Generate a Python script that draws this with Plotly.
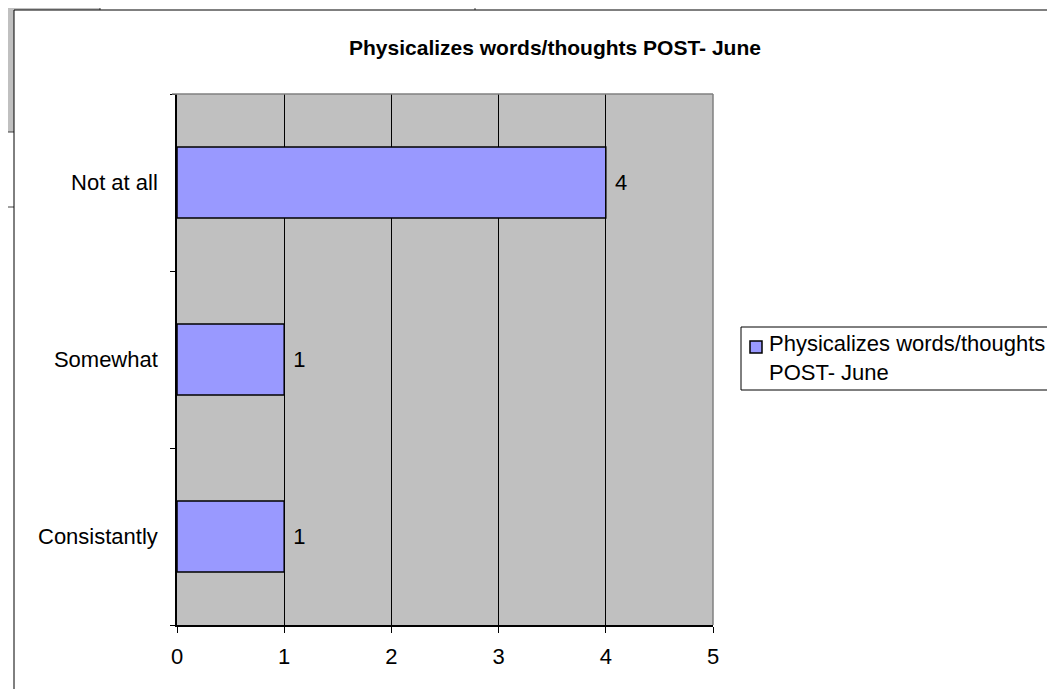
import plotly.graph_objects as go

# survey answers, listed bottom to top
categories = ["Consistantly", "Somewhat", "Not at all"]
counts = [1, 1, 4]
series_name = "Physicalizes words/thoughts<br>POST- June"
title_text = "<b>Physicalizes words/thoughts POST- June</b>"
x_ticks = [0, 1, 2, 3, 4, 5]

# page is 1055x689, the figure div sits 8px in because of the body margin
OFF = 8
PAGE_W, PAGE_H = 1055, 689
W, H = PAGE_W - OFF, PAGE_H - OFF
L, R, T, B = 177, 713, 94, 625   # plot area in page pixels


def fx(p):
    return (p - L) / (R - L)


def fy(p):
    return (B - p) / (B - T)


font = dict(family="Arial, Liberation Sans, sans-serif", size=22, color="black")
dark = "#404040"

fig = go.Figure()
fig.add_trace(go.Bar(
    y=categories, x=counts, orientation="h", name=series_name,
    marker=dict(color="#9999FF", line=dict(color="black", width=1.5)),
    text=counts, texttemplate=" %{x}", textposition="outside", textfont=font,
    cliponaxis=False, showlegend=False,
))


def box(x0, x1, y0, y1, **kw):
    return dict(type="rect", xref="paper", yref="paper",
                x0=fx(x0), x1=fx(x1), y0=fy(y1), y1=fy(y0), **kw)


def seg(x0, x1, y0, y1, color=dark, width=1):
    return dict(type="line", xref="paper", yref="paper",
                x0=fx(x0), x1=fx(x1), y0=fy(y0), y1=fy(y1),
                line=dict(color=color, width=width))


shapes = [
    # spreadsheet cells peeking out behind the chart
    box(0, 100, 0, 10, fillcolor="#C0C0C0", line=dict(width=0), layer="below"),
    box(0, 14, 0, 132, fillcolor="#C0C0C0", line=dict(width=0), layer="below"),
    seg(100, 100, 0, 10),
    seg(0, 14, 132, 132),
    seg(0, 14, 207, 207),
    seg(475, 475, 0, 10),
    # chart frame
    seg(14, 1060, 10, 10, color="black"),
    seg(14, 14, 10, 700, color="black"),
    # plot area border (top / right)
    seg(L - 5, R, T, T, color="#808080", width=1.5),
    seg(R, R, T, B, color="#808080", width=1.5),
    # legend box and key
    box(741, 1070, 327, 390, line=dict(color="black", width=1)),
    box(750, 762, 341, 353, fillcolor="#9999FF", line=dict(color="black", width=1.5)),
]

annotations = [
    dict(text=series_name, xref="paper", yref="paper", x=fx(767), y=fy(329),
         xanchor="left", yanchor="top", align="left", showarrow=False, font=font),
]

fig.update_layout(
    width=W, height=H,
    margin=dict(l=L - OFF, r=PAGE_W - R, t=T - OFF, b=PAGE_H - B, pad=0),
    paper_bgcolor="white", plot_bgcolor="#C0C0C0",
    font=font,
    title=dict(text=title_text, x=fx(555), xref="paper", xanchor="center",
               yref="container", y=1 - (48 - OFF) / H, yanchor="middle",
               font=dict(size=21)),
    bargap=0.6,
    showlegend=False,
    shapes=shapes,
    annotations=annotations,
)
fig.update_xaxes(range=[0, 5], tickvals=x_ticks, showgrid=True, gridcolor="black",
                 gridwidth=1, zeroline=False, showline=True, linecolor="black",
                 linewidth=1.5, ticks="outside", ticklen=6, tickcolor="black",
                 ticklabelstandoff=5, fixedrange=True)
fig.update_yaxes(showgrid=False, showline=True, linecolor="black", linewidth=1.5,
                 ticks="outside", ticklen=5, tickcolor="black", tickson="boundaries",
                 ticklabelstandoff=13, fixedrange=True)

fig.write_html("out.html", config={"displayModeBar": False})
